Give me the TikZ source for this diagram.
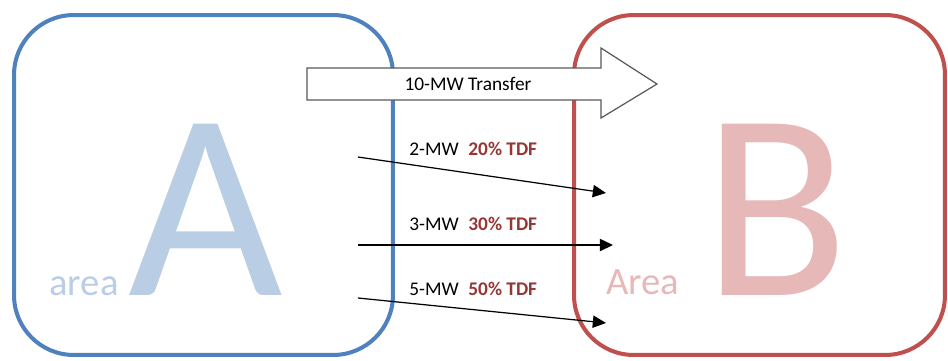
\documentclass[tikz,border=0pt]{standalone}
\usepackage{fontspec}
\setmainfont{Carlito}
\usetikzlibrary{arrows.meta}
\definecolor{areablue}{HTML}{4F81BD}
\definecolor{areared}{HTML}{C0504D}
\definecolor{letterblue}{HTML}{B9CDE5}
\definecolor{letterred}{HTML}{E6B9B8}
\definecolor{tdfred}{HTML}{953735}
\definecolor{arrowgray}{HTML}{595959}
\tikzset{
  areabox/.style={draw, line width=2.3pt, rounded corners=34pt, minimum height=6.8cm, inner sep=0pt},
  bigletter/.style={anchor=base, inner sep=0pt, font=\fontsize{152}{152}\selectfont},
  arealabel/.style={anchor=base west, inner sep=0pt, font=\fontsize{22}{26}\selectfont},
  flow/.style={-{Triangle[length=7.5pt,width=7pt]}, line width=0.7pt},
  flowlabel/.style={anchor=base west, inner sep=0pt, font=\fontsize{11}{13}\selectfont}
}
\newcommand{\tdf}[1]{\textbf{\color{tdfred}#1}}
\begin{document}
\begin{tikzpicture}[x=0.02cm, y=-0.02cm]
    \useasboundingbox (0,0) rectangle (948,360);
    % the two areas
    \node[areabox, draw=areablue, minimum width=7.58cm] (areaA) at (203.5,185) {};
    \node[areabox, draw=areared, minimum width=7.42cm] (areaB) at (759.5,185) {};
    \node[bigletter, text=letterblue] (letA) at (206,295) {A};
    \node[arealabel, text=letterblue] (nameA) at (49,295) {area};
    \node[bigletter, text=letterred] (letB) at (776,295) {B};
    \node[arealabel, text=letterred] (nameB) at (606,294) {Area};
    % total transfer
    \coordinate (T1) at (307,68);
    \coordinate (T2) at (601,68);
    \coordinate (T3) at (601,48);
    \coordinate (T4) at (657,84);
    \coordinate (T5) at (601,118);
    \coordinate (T6) at (601,100);
    \coordinate (T7) at (307,100);
    \draw[draw=arrowgray, fill=white, line width=0.7pt] (T1) -- (T2) -- (T3) -- (T4) -- (T5) -- (T6) -- (T7) -- cycle;
    \node[font=\fontsize{11}{13}\selectfont] (transfer) at (468,84) {10-MW Transfer};
    % flows on the three paths
    \coordinate (F1s) at (358,157);
    \coordinate (F1e) at (606,193);
    \coordinate (F2s) at (358,245);
    \coordinate (F2e) at (613,245);
    \coordinate (F3s) at (358,298);
    \coordinate (F3e) at (606,323);
    \draw[flow] (F1s) -- (F1e);
    \draw[flow] (F2s) -- (F2e);
    \draw[flow] (F3s) -- (F3e);
    \node[flowlabel] (L1) at (409,155) {2-MW\hspace{0.5em}\tdf{20\% TDF}};
    \node[flowlabel] (L2) at (409,230) {3-MW\hspace{0.5em}\tdf{30\% TDF}};
    \node[flowlabel] (L3) at (409,295) {5-MW\hspace{0.5em}\tdf{50\% TDF}};
\end{tikzpicture}
\end{document}
